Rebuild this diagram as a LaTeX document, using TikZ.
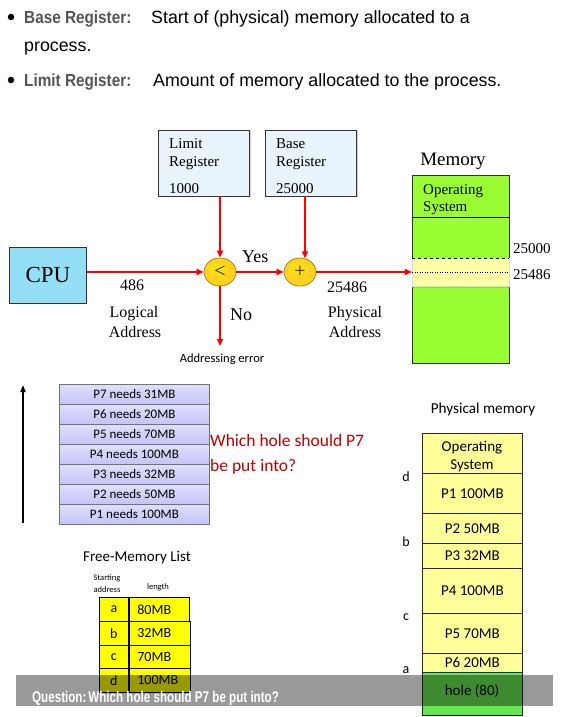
\documentclass[tikz,border=0pt]{standalone}
\usepackage{fontspec}
\setmainfont{Liberation Serif}
\newfontfamily\arialf{Liberation Sans}
\newfontfamily\calib{Carlito}
\usetikzlibrary{arrows.meta,shadows,shapes.geometric}
\definecolor{hdgray}{HTML}{555555}
\definecolor{regfill}{HTML}{E8F3FB}
\definecolor{cpufill}{HTML}{93E0F6}
\definecolor{memgreen}{HTML}{99FF33}
\definecolor{bandyel}{HTML}{FFFFAA}
\definecolor{procfill}{HTML}{C4C4F8}
\definecolor{pmyel}{HTML}{FFFF99}
\definecolor{holegreen}{HTML}{66E650}
\definecolor{qred}{HTML}{C00000}
\definecolor{tabyel}{HTML}{FFFF00}
\definecolor{arrred}{HTML}{FF0000}
\definecolor{gold}{HTML}{FFD21F}
\definecolor{goldedge}{HTML}{A07800}
\tikzset{
  box/.style={anchor=north west, inner sep=0pt, draw=black!80, line width=0.8pt},
  regbox/.style={box, fill=regfill, minimum width=91pt, minimum height=66pt,
     drop shadow={shadow xshift=1.5pt, shadow yshift=-1.5pt, opacity=0.35}},
  stxt/.style={anchor=base west, inner sep=0pt, font=\fontsize{15}{18}\selectfont},
  ctxt/.style={anchor=base, inner sep=0pt},
  redarrow/.style={draw=arrred, line width=2.2pt, -{Triangle[length=7pt,width=6pt]}},
  oper/.style={ellipse, draw=goldedge, line width=0.7pt, fill=gold, minimum width=32pt, minimum height=28pt, inner sep=0pt},
  opsym/.style={anchor=center, inner sep=0pt, text=black!85, font=\fontsize{20}{22}\selectfont},
  proc/.style={box, draw=black!55, top color=procfill!55, bottom color=procfill, minimum width=150pt, minimum height=20pt, font=\calib\fontsize{13}{15}\selectfont},
  pm/.style={box, draw=black!85, fill=pmyel, minimum width=100pt, font=\calib\fontsize{15}{18}\selectfont},
  tab/.style={box, draw=black, fill=tabyel, minimum height=23pt, font=\calib\fontsize{14}{16}\selectfont},
  lbl/.style={anchor=center, inner sep=0pt, font=\calib\fontsize{14}{16}\selectfont},
  toptxt/.style={anchor=base west, inner sep=0pt, font=\arialf\fontsize{17.8}{20}\selectfont},
  tophd/.style={anchor=base west, inner sep=0pt, font=\arialf\bfseries\fontsize{17.5}{20}\selectfont, text=hdgray},
}
\begin{document}
\begin{tikzpicture}[x=1pt,y=-1pt]
\useasboundingbox (0,0) rectangle (567,717);
\fill[white] (0,0) rectangle (567,717);

% ---------- top bullets
\node[circle, fill=black, inner sep=0pt, minimum size=6.5pt] (bul1) at (11,17) {};
\node[circle, fill=black, inner sep=0pt, minimum size=6.5pt] (bul2) at (11,80) {};
\node[tophd] (bh1) at (24,23.5) {\scalebox{0.875}[1]{Base Register:}};
\node[toptxt] (bt1) at (151,23.5) {Start of (physical) memory allocated to a};
\node[toptxt] (bt2) at (24,51.5) {process.};
\node[tophd] (bh3) at (24,86) {\scalebox{0.875}[1]{Limit Register:}};
\node[toptxt] (bt3) at (153,86) {Amount of memory allocated to the process.};

% ---------- registers
\node[regbox] (limit) at (158,129.5) {};
\node[stxt] (lim1) at (169,148) {Limit};
\node[stxt] (lim2) at (169,166) {Register};
\node[stxt] (lim3) at (169,193) {1000};
\node[regbox] (base) at (265,129.5) {};
\node[stxt] (bas1) at (276,148) {Base};
\node[stxt] (bas2) at (276,166) {Register};
\node[stxt] (bas3) at (276,193) {25000};

% CPU
\node[box, fill=cpufill, minimum width=77pt, minimum height=56pt, font=\fontsize{23}{26}\selectfont,
  drop shadow={shadow xshift=1pt, shadow yshift=-1pt, opacity=0.3}] (cpu) at (9,247) {CPU};

% operators
\node[oper] (lt) at (220,272) {};
\fill[yellow!60!gold, opacity=0.7] (lt.center) ++(-2,-3) ellipse [x radius=9, y radius=6];
\node[opsym] (ltsym) at (lt.center) {<};
\node[oper] (pl) at (300,272) {};
\fill[yellow!60!gold, opacity=0.7] (pl.center) ++(-2,-3) ellipse [x radius=9, y radius=6];
\node[opsym] (plsym) at (pl.center) {+};

% memory
\node[box, fill=memgreen, minimum width=97pt, minimum height=188pt, draw=black!80] (mem) at (412,175) {};
\draw[black, line width=0.6pt] (mem.north west |- 0,217) coordinate (osl) -- (mem.north east |- 0,217) coordinate (osr);
\node[stxt] (os1) at (423,194) {Operating};
\node[stxt] (os2) at (423,211) {System};
\node[box, fill=bandyel, draw=black!15, line width=0.4pt, minimum width=97pt, minimum height=28pt,
  drop shadow={shadow xshift=1pt, shadow yshift=-1.5pt, opacity=0.3}] (band) at (412,258) {};
\draw[dashed, line width=0.6pt] (band.north west) -- (band.north east);
\draw[dotted, line width=0.5pt] (band.west) -- (band.east);
\node[ctxt, font=\fontsize{19}{22}\selectfont] (memlbl) at (453,165) {Memory};
\node[stxt] (m25000) at (513,253) {25000};
\node[stxt] (m25486) at (513,279) {25486};

% labels
\node[anchor=base west, inner sep=0pt, font=\fontsize{18}{20}\selectfont] (yes) at (242,262) {Yes};
\node[anchor=base west, inner sep=0pt, font=\fontsize{18}{20}\selectfont] (no) at (230,320) {No};
\node[anchor=base west, inner sep=0pt, font=\fontsize{16}{18}\selectfont] (v486) at (120,290) {486};
\node[ctxt, font=\fontsize{16}{18}\selectfont] (log1) at (134,317) {Logical};
\node[ctxt, font=\fontsize{16}{18}\selectfont] (log2) at (135,337) {Address};
\node[anchor=base west, inner sep=0pt, font=\fontsize{16}{18}\selectfont] (v25486) at (327,292) {25486};
\node[ctxt, font=\fontsize{16}{18}\selectfont] (phy1) at (355,317) {Physical};
\node[ctxt, font=\fontsize{16}{18}\selectfont] (phy2) at (355,337) {Address};
\node[ctxt, font=\calib\fontsize{12.5}{15}\selectfont] (err) at (222,362) {Addressing error};
\coordinate (errtip) at (220,346);

% arrows
\draw[redarrow] (cpu.east |- lt.west) -- (lt.west);
\draw[redarrow] (lt.north |- limit.south) -- (lt.north);
\draw[redarrow] (pl.70 |- base.south) -- (pl.70);
\draw[redarrow] (lt.east) -- (pl.west);
\draw[redarrow] (pl.east) -- (pl.east -| mem.west);
\draw[redarrow] (lt.south) -- (errtip);

% ---------- lower part
\coordinate (upb) at (23,523);
\coordinate (upt) at (23,385);
\draw[black, line width=1.6pt, -{Triangle[length=7pt,width=5pt]}] (upb) -- (upt);

\node[proc] (p7) at (59,384) {P7 needs 31MB};
\node[proc] (p6) at (59,404) {P6 needs 20MB};
\node[proc] (p5) at (59,424) {P5 needs 70MB};
\node[proc] (p4) at (59,444) {P4 needs 100MB};
\node[proc] (p3) at (59,464) {P3 needs 32MB};
\node[proc] (p2) at (59,484) {P2 needs 50MB};
\node[proc] (p1) at (59,504) {P1 needs 100MB};

\node[anchor=base west, inner sep=0pt, text=qred, font=\calib\fontsize{17.5}{20}\selectfont] (q1) at (210,446) {Which hole should P7};
\node[anchor=base west, inner sep=0pt, text=qred, font=\calib\fontsize{17.5}{20}\selectfont] (q2) at (210,471) {be put into?};

\node[ctxt, font=\calib\fontsize{15.2}{17}\selectfont] (pmlbl) at (483,413) {Physical memory};
\node[pm, minimum height=40pt] (mos) at (422,433) {};
\node[ctxt, font=\calib\fontsize{15}{18}\selectfont] (mos1) at (472,451) {Operating};
\node[ctxt, font=\calib\fontsize{15}{18}\selectfont] (mos2) at (472,469) {System};
\node[pm, minimum height=40pt] (mp1) at (422,473) {P1 100MB};
\node[pm, minimum height=30pt] (mp2) at (422,513) {P2 50MB};
\node[pm, minimum height=25pt] (mp3) at (422,543) {P3 32MB};
\node[pm, minimum height=45pt] (mp4) at (422,568) {P4 100MB};
\node[pm, minimum height=40pt] (mp5) at (422,613) {P5 70MB};
\node[pm, minimum height=19pt] (mp6) at (422,653) {P6 20MB};
\node[pm, fill=holegreen, minimum height=43pt] (hole) at (422,672) {};
\node[ctxt, font=\calib\fontsize{15}{18}\selectfont] (holet) at (472,695) {hole (80)};

\node[lbl] (ld) at (406,477) {d};
\node[lbl] (lb) at (406,542) {b};
\node[lbl] (lc) at (406,617) {c};
\node[lbl] (la) at (406,670) {a};

\node[ctxt, font=\calib\fontsize{15}{18}\selectfont] (fml) at (137,561) {Free-Memory List};
\node[ctxt, font=\calib\fontsize{8.5}{10}\selectfont] (sa1) at (107,580) {Starting};
\node[ctxt, font=\calib\fontsize{8.5}{10}\selectfont] (sa2) at (107,592) {address};
\node[ctxt, font=\calib\fontsize{8.5}{10}\selectfont] (lenl) at (158,589) {length};

\node[tab, minimum width=29pt, minimum height=24pt] (ta) at (99,597) {a};
\node[tab, minimum width=60pt, minimum height=24pt, text width=44pt, align=left] (tav) at (129,597) {80MB};
\node[tab, minimum width=29pt, minimum height=24pt] (tb) at (99,621) {b};
\node[tab, minimum width=61pt, minimum height=24pt, text width=45pt, align=left] (tbv) at (129,621) {32MB};
\node[tab, minimum width=29pt, minimum height=23pt] (tc) at (99,645) {c};
\node[tab, minimum width=61pt, minimum height=23pt, text width=45pt, align=left] (tcv) at (129,645) {70MB};
\node[tab, minimum width=29pt, minimum height=24pt] (td) at (99,668) {d};
\node[tab, minimum width=61pt, minimum height=24pt, text width=45pt, align=left] (tdv) at (129,668) {100MB};

% ---------- banner
\fill[black, opacity=0.4] (16,675) rectangle (553,706);
\node[anchor=base west, inner sep=0pt, text=white, font=\arialf\bfseries\fontsize{15.5}{17}\selectfont] (banner) at (32,702) {\scalebox{0.75}[1]{Question:\,Which hole should P7 be put into?}};
\end{tikzpicture}
\end{document}
